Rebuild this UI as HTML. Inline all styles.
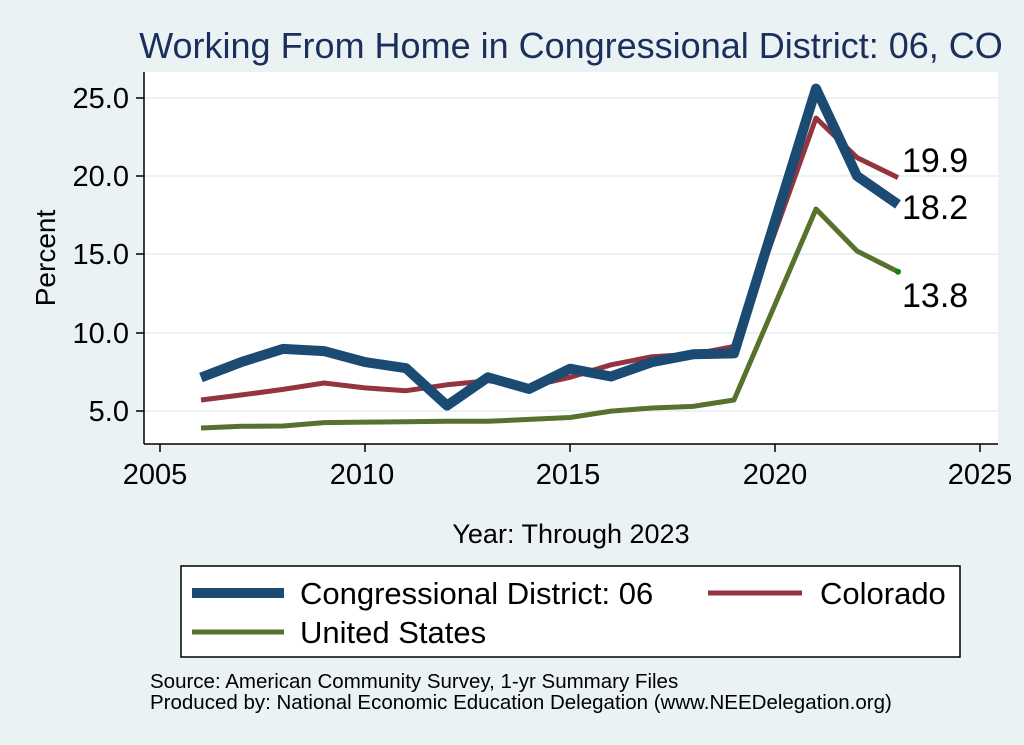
<!DOCTYPE html>
<html><head><style>
body{margin:0;background:#eaf2f3;}
svg{display:block;font-family:"Liberation Sans",Arial,sans-serif;}
</style></head><body>
<svg width="1024" height="745" viewBox="0 0 1024 745">
<rect width="1024" height="745" fill="#eaf2f3"/>
<text x="571" y="58" text-anchor="middle" font-size="36" fill="#1a2f5c">Working From Home in Congressional District: 06, CO</text>
<rect x="144" y="72" width="854" height="372" fill="#fff"/>
<g stroke="#eaf2f3" stroke-width="2">
<line x1="145" x2="998" y1="98" y2="98"/><line x1="145" x2="998" y1="176" y2="176"/>
<line x1="145" x2="998" y1="254" y2="254"/><line x1="145" x2="998" y1="333" y2="333"/>
<line x1="145" x2="998" y1="411" y2="411"/></g>
<g stroke="#000" stroke-width="1.5">
<line x1="144" y1="72" x2="144" y2="444"/><line x1="144" y1="444" x2="998" y2="444"/>
<line x1="136" x2="144" y1="98" y2="98"/><line x1="136" x2="144" y1="176" y2="176"/>
<line x1="136" x2="144" y1="254" y2="254"/><line x1="136" x2="144" y1="333" y2="333"/>
<line x1="136" x2="144" y1="411" y2="411"/>
<line x1="160" x2="160" y1="444" y2="452"/><line x1="365" x2="365" y1="444" y2="452"/>
<line x1="570" x2="570" y1="444" y2="452"/><line x1="775" x2="775" y1="444" y2="452"/>
<line x1="980" x2="980" y1="444" y2="452"/></g>
<g font-size="29" text-anchor="end">
<text x="129" y="108">25.0</text><text x="129" y="186">20.0</text><text x="129" y="264">15.0</text>
<text x="129" y="343">10.0</text><text x="129" y="421">5.0</text></g>
<g font-size="29" text-anchor="middle">
<text x="155" y="484">2005</text><text x="362" y="484">2010</text><text x="568" y="484">2015</text>
<text x="775" y="484">2020</text><text x="980" y="484">2025</text></g>
<text transform="translate(55,258) rotate(-90)" text-anchor="middle" font-size="28">Percent</text>
<text x="571" y="543" text-anchor="middle" font-size="27">Year: Through 2023</text>
<g fill="none" stroke-linejoin="round">
<polyline stroke="#56722c" stroke-width="5" points="201,428 242,426.3 283,426 324,422.6 365,422.1 406,421.8 447,421.3 488,421.3 529,419.4 570,417.5 611,411.1 652,408 693,406.4 734,400 816,209 857,251 898,271.7"/>
<polyline stroke="#93343f" stroke-width="5" points="201,400 242,394.9 283,389.4 324,383 365,387.9 406,390.7 447,384.8 488,380.7 529,386.5 570,377.3 611,364.8 652,356.7 693,354.3 734,346.4 816,118 857,157.6 898,177.6"/>
<polyline stroke="#1b4a72" stroke-width="10" points="201,377.5 242,361.8 283,348.9 324,351.1 365,362.1 406,368.2 447,405.6 488,377.3 529,389 570,368.7 611,376.5 652,362.1 693,354.3 734,353.4 816,88.6 857,176 898,204.4"/>
</g>
<circle cx="898" cy="271.7" r="3" fill="#0a8a0a"/>
<g font-size="34">
<text x="902" y="172">19.9</text><text x="902" y="219">18.2</text><text x="902" y="307">13.8</text></g>
<rect x="181" y="566" width="779" height="91" fill="#fff" stroke="#000" stroke-width="1.5"/>
<line x1="192" x2="284" y1="593" y2="593" stroke="#1b4a72" stroke-width="10"/>
<text x="300" y="604" font-size="31">Congressional District: 06</text>
<line x1="708" x2="802" y1="593" y2="593" stroke="#93343f" stroke-width="5"/>
<text x="820" y="604" font-size="31">Colorado</text>
<line x1="192" x2="284" y1="632" y2="632" stroke="#56722c" stroke-width="5"/>
<text x="300" y="643" font-size="31">United States</text>
<text x="150" y="688" font-size="20.5">Source: American Community Survey, 1-yr Summary Files</text>
<text x="150" y="709" font-size="20.5">Produced by: National Economic Education Delegation (www.NEEDelegation.org)</text>
</svg>
</body></html>
